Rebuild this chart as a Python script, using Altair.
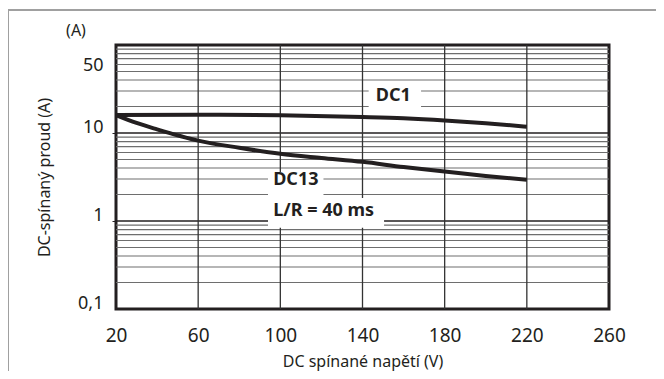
import altair as alt
import pandas as pd

# ---- data ----
dc1_v = [20, 60, 100, 140, 160, 180, 200, 220]
dc1_a = [16.0, 16.1, 15.9, 15.2, 14.7, 13.9, 12.9, 11.8]

dc13_v = [20, 30, 40, 60, 80, 100, 120, 140, 160, 180, 200, 220]
dc13_a = [16.0, 13.0, 11.0, 8.2, 6.8, 5.8, 5.2, 4.7, 4.1, 3.65, 3.25, 2.95]

x_ticks = [20, 60, 100, 140, 180, 220, 260]
y_ticks = [0.1, 1, 10, 50]
v_grid = [60, 100, 140, 180, 220]
h_grid_major = [1, 10]
h_grid_minor = [m * d for d in (0.1, 1, 10) for m in range(2, 10)]

labels_text = ["DC1", "DC13", "L/R = 40 ms"]
labels_v = [146.5, 96.5, 96.5]
labels_a = [26.5, 2.95, 1.3]

boxes = pd.DataFrame({
    "x": [143, 94, 94], "x2": [168.5, 121, 150.5],
    "y": [36, 3.6, 1.82], "y2": [18, 1.82, 0.84],
})

lines = pd.concat([
    pd.DataFrame({"v": dc1_v, "a": dc1_a, "s": "DC1"}),
    pd.DataFrame({"v": dc13_v, "a": dc13_a, "s": "DC13"}),
])

FONT = "Noto Sans"
INK = "#231f20"

xs = alt.Scale(domain=[20, 260], nice=False, zero=False)
ys = alt.Scale(type="log", domain=[0.1, 100], nice=False)

x_axis = alt.Axis(values=x_ticks, title="DC spínané napětí (V)", grid=False,
                  domain=False, ticks=False, labelPadding=17, titlePadding=8,
                  labelFlush=False, labelOverlap=False,
                  labelFontSize=19, titleFontSize=16, titleFontWeight="normal",
                  labelFont=FONT, titleFont=FONT, labelColor=INK, titleColor=INK)
y_axis = alt.Axis(values=y_ticks, title="DC-spínaný proud (A)", grid=False,
                  domain=False, tickSize=4,
                  tickColor=alt.condition("datum.value == 1 || datum.value == 10",
                                          alt.value(INK), alt.value("transparent")),
                  labelPadding=9, labelOffset=-6, titlePadding=25,
                  labelFlush=False, labelOverlap=False,
                  labelExpr="replace(format(datum.value, '~g'), '.', ',')",
                  labelFontSize=18, titleFontSize=16, titleFontWeight="normal",
                  labelFont=FONT, titleFont=FONT, labelColor=INK, titleColor=INK)


def X(field):
    return alt.X(field, scale=xs, axis=x_axis)


def Y(field):
    return alt.Y(field, scale=ys, axis=y_axis)


minor = alt.Chart(pd.DataFrame({"a": h_grid_minor})).mark_rule(
    color="#6e6e6e", strokeWidth=1.2
).encode(y=Y("a:Q"))

major = alt.Chart(pd.DataFrame({"a": h_grid_major})).mark_rule(
    color=INK, strokeWidth=1.5
).encode(y=Y("a:Q"))

vert = alt.Chart(pd.DataFrame({"v": v_grid})).mark_rule(
    color="#333333", strokeWidth=1.3
).encode(x=X("v:Q"))

box = alt.Chart(boxes).mark_rect(color="white").encode(
    x=X("x:Q"), x2="x2:Q", y=Y("y:Q"), y2="y2:Q",
)

curves = alt.Chart(lines).mark_line(color=INK, strokeWidth=4, interpolate="monotone").encode(
    x=X("v:Q"), y=Y("a:Q"), detail="s:N",
)

txt = alt.Chart(pd.DataFrame({"t": labels_text, "v": labels_v, "a": labels_a})).mark_text(
    font=FONT, fontSize=18, fontWeight="bold", color=INK, align="left", baseline="middle"
).encode(x=X("v:Q"), y=Y("a:Q"), text="t:N")

unit = alt.Chart(pd.DataFrame({"t": ["(A)"]})).mark_text(
    font=FONT, fontSize=16, color=INK, align="center", baseline="middle"
).encode(x=alt.value(-40), y=alt.value(-14), text="t:N")

frame = alt.Chart(pd.DataFrame({"k": [0]})).mark_rect(
    fill="transparent", stroke="#a0a0a0", strokeWidth=2
).encode(x=alt.value(-108), x2=alt.value(700), y=alt.value(-35), y2=alt.value(420))

chart = alt.layer(frame, minor, major, vert, box, curves, txt, unit).properties(
    width=493, height=264,
    background="white",
    autosize=alt.AutoSizeParams(type="none"),
    padding={"left": 108, "top": 37, "right": 47, "bottom": 62},
).configure_view(stroke=INK, strokeWidth=3)

chart.save("out.html", embed_options={"renderer": "svg", "actions": False})
